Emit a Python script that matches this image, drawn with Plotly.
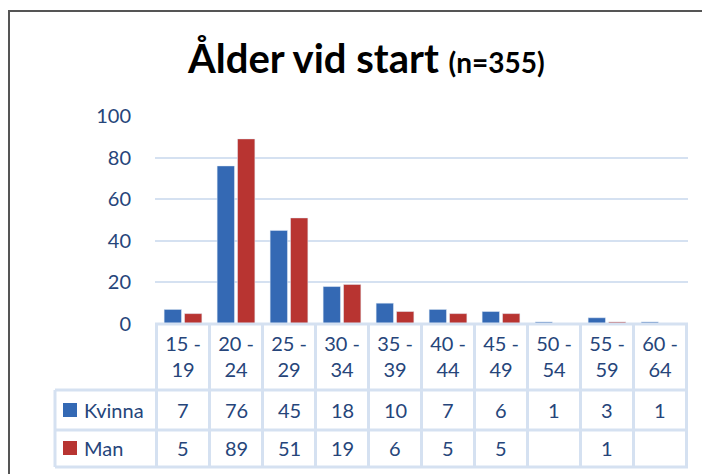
import plotly.graph_objects as go

# Data
categories = ["15 - 19", "20 - 24", "25 - 29", "30 - 34", "35 - 39",
              "40 - 44", "45 - 49", "50 - 54", "55 - 59", "60 - 64"]
kvinna = [7, 76, 45, 18, 10, 7, 6, 1, 3, 1]
man = [5, 89, 51, 19, 6, 5, 5, None, 1, None]
series_names = ["Kvinna", "Man"]
y_ticks = [0, 20, 40, 60, 80, 100]

BLUE = "#3469B4"
RED = "#B83431"
TXT = "#26457A"
GRID = "#D5E1F1"
FONT = "Lato"

# the page body has an 8px margin, so the figure starts at (8, 8) on screen
OFF = 8
W, H = 710 - OFF, 474 - OFF
PL, PR, PT, PB = 155, 688, 116, 324   # plot area in screen pixels


def px(x):
    return (x - PL) / (PR - PL)


def py(y):
    return (PB - y) / (PB - PT)


tick_text = [c.replace(" - ", " -<br>") for c in categories]

fig = go.Figure()
fig.add_trace(go.Bar(x=categories, y=kvinna, name=series_names[0], marker_color=BLUE))
fig.add_trace(go.Bar(x=categories, y=man, name=series_names[1], marker_color=RED))

shapes = []
# chart frame
shapes.append(dict(type="rect", xref="paper", yref="paper",
                   x0=px(9), x1=px(740), y0=py(11), y1=py(500),
                   line=dict(color="#555555", width=2), layer="below"))
# data table horizontal lines
shapes.append(dict(type="line", xref="paper", yref="paper",
                   x0=px(PL), x1=px(PR), y0=py(PB), y1=py(PB),
                   line=dict(color=GRID, width=3)))
for yy in [390, 430, 467]:
    shapes.append(dict(type="line", xref="paper", yref="paper",
                       x0=px(55), x1=px(PR), y0=py(yy), y1=py(yy),
                       line=dict(color=GRID, width=3)))
# data table vertical lines
for i in range(len(categories) + 1):
    shapes.append(dict(type="line", xref="x", yref="paper",
                       x0=i - 0.5, x1=i - 0.5, y0=py(PB), y1=py(467),
                       line=dict(color=GRID, width=3)))
shapes.append(dict(type="line", xref="paper", yref="paper",
                   x0=px(55), x1=px(55), y0=py(390), y1=py(467),
                   line=dict(color=GRID, width=3)))

# legend squares
for yy, col in [(410, BLUE), (448, RED)]:
    shapes.append(dict(type="rect", xref="paper", yref="paper",
                       x0=px(63), x1=px(77), y0=py(yy - 7), y1=py(yy + 7),
                       fillcolor=col, line=dict(width=0)))

annotations = []
for name, vals, yy in [(series_names[0], kvinna, 410), (series_names[1], man, 448)]:
    annotations.append(dict(xref="paper", yref="paper", x=px(82), y=py(yy),
                            text=name, showarrow=False, xanchor="left", yanchor="middle",
                            font=dict(family=FONT, size=20, color=TXT)))
    for c, v in zip(categories, vals):
        if v is None:
            continue
        annotations.append(dict(xref="x", yref="paper", x=c, y=py(yy),
                                text=str(v), showarrow=False, xanchor="center",
                                yanchor="middle",
                                font=dict(family=FONT, size=20, color=TXT)))

# title
annotations.append(dict(xref="paper", yref="paper", x=px(366), y=py(58),
                        text="<b>Ålder vid start <span style='font-size:28px'>(n=355)</span></b>",
                        showarrow=False, xanchor="center", yanchor="middle",
                        font=dict(family=FONT, size=40, color="black")))

fig.update_layout(
    width=W, height=H,
    margin=dict(l=PL - OFF, r=W + OFF - PR, t=PT - OFF, b=H + OFF - PB),
    paper_bgcolor="white", plot_bgcolor="white",
    showlegend=False,
    barmode="group", bargap=0.23, bargroupgap=0.15,
    shapes=shapes,
    annotations=annotations,
)
fig.update_xaxes(tickvals=categories, ticktext=tick_text, showgrid=False,
                 showline=False, ticks="", ticklabelstandoff=6,
                 tickfont=dict(family=FONT, size=20, color=TXT))
fig.update_yaxes(range=[0, 100], tickvals=y_ticks, showgrid=True, gridcolor=GRID,
                 gridwidth=2, zeroline=False, showline=False, ticks="",
                 ticklabelstandoff=23,
                 tickfont=dict(family=FONT, size=20, color=TXT))

fig.write_html("out.html")
